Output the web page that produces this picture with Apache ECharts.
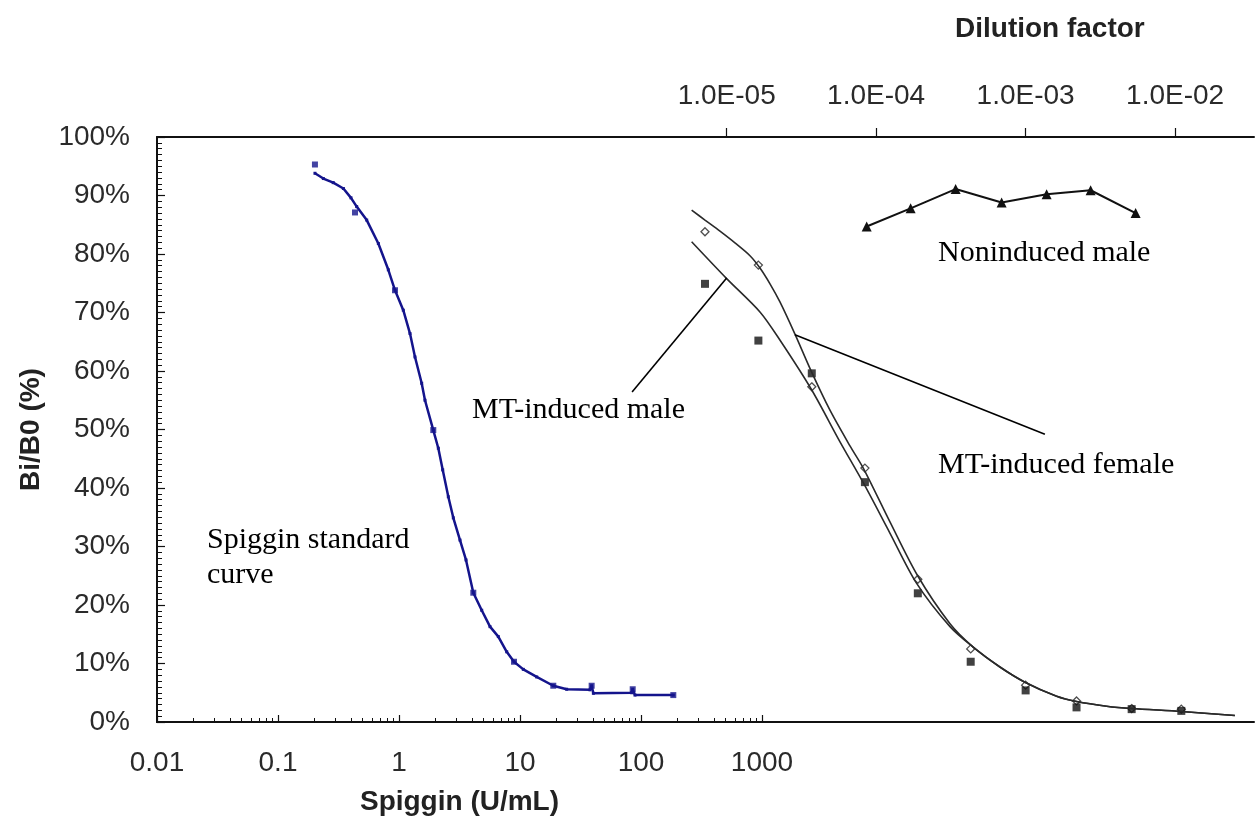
<!DOCTYPE html>
<html>
<head>
<meta charset="utf-8">
<script src="https://cdn.jsdelivr.net/npm/echarts@6/dist/echarts.min.js"></script>
<style>
  html, body { margin: 0; padding: 0; background: #fff; }
  #chart { width: 1256px; height: 825px; }
</style>
</head>
<body>
<div id="chart"></div>
<script>
// Spiggin standard curve (bottom axis, U/mL)
var spigginConc = [0.202, 0.237, 0.286, 0.347, 0.401, 0.447, 0.541, 0.675, 0.816, 0.927,
    1.085, 1.233, 1.356, 1.54, 1.64, 1.92, 2.113, 2.297, 2.556, 2.811,
    3.192, 3.579, 4.112, 4.826, 5.652, 6.617, 7.766, 8.92, 10.65, 13.74,
    18.84, 24.3, 37.9, 39.1, 40.4, 83.8, 85.4, 89.2, 184.9];
var spigginPct = [93.8, 92.9, 92.2, 91.2, 89.6, 88.1, 85.8, 81.8, 77.3, 73.8,
    70.4, 66.4, 62.4, 57.9, 55.0, 49.9, 46.8, 43.1, 38.5, 34.9,
    31.1, 27.7, 22.1, 19.1, 16.3, 14.6, 12.0, 10.3, 9.0, 7.7,
    6.2, 5.6, 5.5, 6.2, 4.9, 5.0, 5.6, 4.6, 4.6];
var stdConc = [0.202, 0.433, 0.927, 1.92, 4.112, 8.92, 18.84, 39.1, 85.4, 184.9];
var stdPct = [95.3, 87.1, 73.8, 49.9, 22.1, 10.3, 6.2, 6.2, 5.6, 4.6];

// MT-induced samples (top axis, dilution factor)
var mtDilution = [7.16e-6, 1.63e-5, 3.71e-5, 8.41e-5, 1.90e-4, 4.29e-4, 1.0e-3, 2.19e-3, 5.12e-3, 1.10e-2];
var femalePct = [83.8, 78.1, 57.3, 43.4, 24.4, 12.5, 6.3, 3.6, 2.3, 2.2];
var malePct = [74.9, 65.2, 59.6, 41.0, 22.0, 10.3, 5.4, 2.5, 2.2, 1.9];

// fitted curves
var femaleFitDil = [5.83e-6, 7.16e-6, 9.02e-6, 1.136e-5, 1.432e-5, 1.670e-5, 1.949e-5, 2.272e-5, 2.863e-5, 3.703e-5,
    4.909e-5, 6.68e-5, 8.20e-5, 1.237e-4, 1.895e-4, 3.12e-4, 4.46e-4, 6.73e-4, 9.89e-4, 1.612e-3,
    2.19e-3, 3.48e-3, 5.12e-3, 1.105e-2, 2.51e-2];
var femaleFitPct = [87.5, 85.8, 83.9, 81.9, 79.7, 77.6, 74.9, 71.8, 66.3, 59.8,
    53.3, 47.2, 43.4, 34.2, 25.0, 16.8, 12.8, 9.4, 6.8, 4.4,
    3.5, 2.7, 2.3, 1.8, 1.1];
var maleFitDil = [5.83e-6, 1.0e-5, 1.67e-5, 2.27e-5, 3.70e-5, 5.73e-5, 8.20e-5, 1.236e-4, 1.866e-4, 3.12e-4,
    4.46e-4, 6.73e-4, 9.89e-4, 1.612e-3, 2.19e-3, 3.48e-3, 5.12e-3, 1.105e-2, 2.51e-2];
var maleFitPct = [82.1, 75.8, 70.1, 65.3, 56.8, 47.9, 40.9, 32.3, 23.7, 16.3,
    12.8, 9.4, 6.8, 4.4, 3.5, 2.7, 2.3, 1.8, 1.1];

// Noninduced male
var nonDil = [8.64e-5, 1.70e-4, 3.40e-4, 6.91e-4, 1.382e-3, 2.72e-3, 5.44e-3];
var nonPct = [84.7, 87.8, 91.1, 88.8, 90.2, 90.9, 87.0];

// tick labels of the dilution axis
var dilTicks = [1e-5, 1e-4, 1e-3, 1e-2];

function zip(xs, ys) {
    var res = [];
    for (var i = 0; i < xs.length; i++) res.push([xs[i], ys[i]]);
    return res;
}

var myChart = echarts.init(document.getElementById('chart'));
var sans = "'Liberation Sans', Arial, sans-serif";
var serif = "'Liberation Serif', 'Times New Roman', serif";
var axisCol = '#111';
var labelStyle = { color: '#2a2a2a', fontSize: 28, fontFamily: sans, margin: 27 };

var option = {
    animation: false,
    backgroundColor: '#fff',
    title: {
        text: 'Dilution factor',
        left: 950, top: 10,
        textStyle: { fontSize: 28, fontWeight: 'bold', fontFamily: sans, color: '#222' }
    },
    grid: [
        { left: 157, right: 494, top: 137, bottom: 103 },
        { left: 157, right: 2, top: 137, bottom: 103 }
    ],
    xAxis: [
        {
            type: 'log', gridIndex: 0, min: 0.01, max: 1000,
            name: 'Spiggin (U/mL)', nameLocation: 'middle', nameGap: 66,
            nameTextStyle: { fontSize: 28, fontWeight: 'bold', fontFamily: sans, color: '#222' },
            axisLine: { onZero: false, lineStyle: { color: axisCol, width: 2 } },
            axisTick: { inside: true, length: 7, lineStyle: { color: axisCol, width: 1.2 } },
            minorTick: { show: true, splitNumber: 9, length: 4, lineStyle: { color: axisCol, width: 1 } },
            axisLabel: Object.assign({}, labelStyle, {
                formatter: function (v) { return String(parseFloat(v.toPrecision(6))); }
            }),
            splitLine: { show: false }
        },
        {
            type: 'log', gridIndex: 1, position: 'top', min: 1.546e-9, max: 0.0337,
            axisLine: { onZero: false, lineStyle: { color: axisCol, width: 2 } },
            axisTick: { inside: false, length: 9, customValues: dilTicks, lineStyle: { color: axisCol, width: 1.2 } },
            axisLabel: Object.assign({}, labelStyle, {
                customValues: dilTicks,
                formatter: function (v) {
                    var e = Math.round(-Math.log10(v));
                    return '1.0E-' + (e < 10 ? '0' + e : e);
                }
            }),
            splitLine: { show: false }
        },
        {
            type: 'value', gridIndex: 1, position: 'bottom', min: 0, max: 1,
            axisLine: { onZero: false, lineStyle: { color: axisCol, width: 2 } },
            axisTick: { show: false }, axisLabel: { show: false }, splitLine: { show: false }
        }
    ],
    yAxis: [
        {
            type: 'value', gridIndex: 0, min: 0, max: 100, interval: 10,
            name: 'Bi/B0 (%)', nameLocation: 'middle', nameGap: 112,
            nameTextStyle: { fontSize: 28, fontWeight: 'bold', fontFamily: sans, color: '#222' },
            axisLine: { show: true, onZero: false, lineStyle: { color: axisCol, width: 2 } },
            axisTick: { inside: true, length: 8, lineStyle: { color: axisCol, width: 1.2 } },
            minorTick: { show: true, splitNumber: 10, length: 5, lineStyle: { color: axisCol, width: 1 } },
            axisLabel: Object.assign({}, labelStyle, { formatter: '{value}%' }),
            splitLine: { show: false }
        },
        {
            type: 'value', gridIndex: 1, min: 0, max: 100, show: false
        }
    ],
    series: [
        {
            name: 'Spiggin standard curve', type: 'line', xAxisIndex: 0, yAxisIndex: 0,
            data: zip(spigginConc, spigginPct),
            symbol: 'rect', symbolSize: 3, showSymbol: true,
            lineStyle: { color: '#14148c', width: 2.5 },
            itemStyle: { color: '#14148c' }
        },
        {
            name: 'Spiggin standard', type: 'scatter', xAxisIndex: 0, yAxisIndex: 0,
            data: zip(stdConc, stdPct),
            symbol: 'rect', symbolSize: 6,
            itemStyle: { color: '#14148c' }
        },
        {
            name: 'MT-induced female fit', type: 'line', xAxisIndex: 1, yAxisIndex: 1,
            data: zip(femaleFitDil, femaleFitPct), smooth: 0.3, showSymbol: false,
            lineStyle: { color: '#2a2a2a', width: 1.6 },
            markLine: {
                silent: true, symbol: 'none', label: { show: false },
                lineStyle: { color: '#000', width: 1.6, type: 'solid' },
                data: [[{ coord: [2.86e-5, 66.2] }, { coord: [1.345e-3, 49.2] }]]
            }
        },
        {
            name: 'MT-induced male fit', type: 'line', xAxisIndex: 1, yAxisIndex: 1,
            data: zip(maleFitDil, maleFitPct), smooth: 0.3, showSymbol: false,
            lineStyle: { color: '#2a2a2a', width: 1.6 },
            markLine: {
                silent: true, symbol: 'none', label: { show: false },
                lineStyle: { color: '#000', width: 1.6, type: 'solid' },
                data: [[{ coord: [2.33e-6, 56.4] }, { coord: [1.0e-5, 75.9] }]]
            }
        },
        {
            name: 'MT-induced female', type: 'scatter', xAxisIndex: 1, yAxisIndex: 1,
            data: zip(mtDilution, femalePct),
            symbol: 'diamond', symbolSize: 8,
            itemStyle: { color: '#fff', borderColor: '#222', borderWidth: 1.3 }
        },
        {
            name: 'MT-induced male', type: 'scatter', xAxisIndex: 1, yAxisIndex: 1,
            data: zip(mtDilution, malePct),
            symbol: 'rect', symbolSize: 8,
            itemStyle: { color: '#111' }
        },
        {
            name: 'Noninduced male', type: 'line', xAxisIndex: 1, yAxisIndex: 1,
            data: zip(nonDil, nonPct),
            symbol: 'triangle', symbolSize: 10,
            lineStyle: { color: '#111', width: 2 },
            itemStyle: { color: '#111' }
        }
    ],
    graphic: [
        { type: 'text', style: { text: 'Noninduced male', x: 938, y: 253, textVerticalAlign: 'middle', font: '30px ' + serif, fill: '#000' } },
        { type: 'text', style: { text: 'MT-induced male', x: 472, y: 410, textVerticalAlign: 'middle', font: '30px ' + serif, fill: '#000' } },
        { type: 'text', style: { text: 'MT-induced female', x: 938, y: 465, textVerticalAlign: 'middle', font: '30px ' + serif, fill: '#000' } },
        { type: 'text', style: { text: 'Spiggin standard', x: 207, y: 540, textVerticalAlign: 'middle', font: '30px ' + serif, fill: '#000' } },
        { type: 'text', style: { text: 'curve', x: 207, y: 575, textVerticalAlign: 'middle', font: '30px ' + serif, fill: '#000' } }
    ]
};

myChart.setOption(option);
window.addEventListener('resize', function () {
    myChart.resize();
});
</script>
</body>
</html>
